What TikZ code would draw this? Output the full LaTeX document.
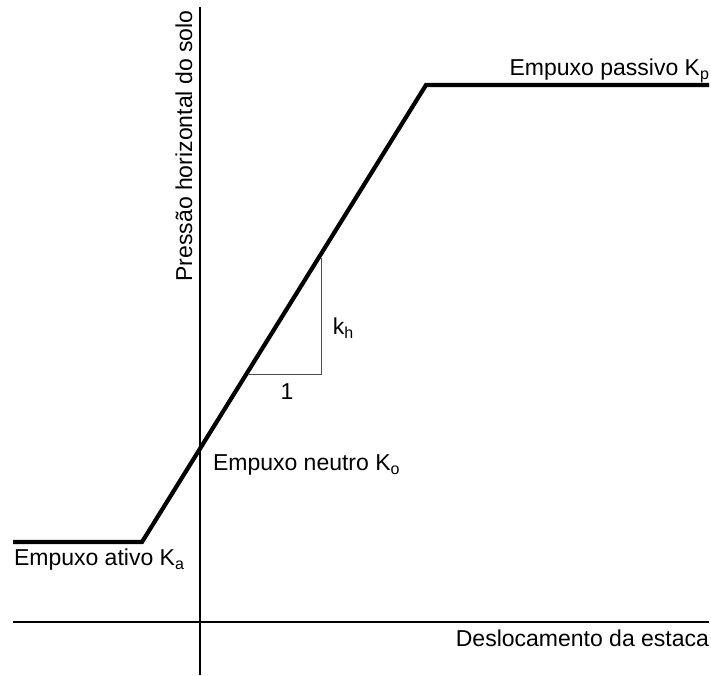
\documentclass[tikz,border=0pt]{standalone}
\usepackage{fontspec}
\setmainfont{Liberation Sans}
\newcommand{\lowidx}[1]{\raisebox{-0.35ex}{\fontsize{16}{16}\selectfont #1}}

\begin{document}
\begin{tikzpicture}[
  x=1pt, y=-1pt,
  font={\fontsize{23}{27}\selectfont},
  every node/.style={inner sep=0pt, outer sep=0pt},
  axisline/.style={line width=1.4pt, draw=black},
  curveline/.style={line width=4.2pt, draw=black, line join=miter},
  slopeline/.style={line width=1pt, draw=black!70},
]

% ── frame ──
\useasboundingbox (0,0) rectangle (711,675);

% ── axes ──
\coordinate (yTop) at (200,7);
\coordinate (yBot) at (200,675);
\coordinate (xLeft) at (13,622);
\coordinate (xRight) at (709,622);
\draw[axisline] (yTop) -- (yBot);
\draw[axisline] (xLeft) -- (xRight);
\node[rotate=90, anchor=center] (yLabel) at (184,146) {Pressão horizontal do solo};
\node[anchor=base east] (xLabel) at (709,646) {Deslocamento da estaca};

% ── pressure curve ──
\coordinate (actStart) at (13,542);
\coordinate (actEnd) at (142,542);
\coordinate (pasStart) at (426,85);
\coordinate (pasEnd) at (709,85);
\draw[curveline] (actStart) -- (actEnd) -- (pasStart) -- (pasEnd);

% ── slope triangle ──
\coordinate (triTop) at (321,258);
\coordinate (triCorner) at (321,374);
\coordinate (triLeft) at (249,374);
\draw[slopeline] (triTop) -- (triCorner) -- (triLeft);
\node[anchor=center] (khLabel) at (343,328) {k\lowidx{h}};
\node[anchor=center] (oneLabel) at (287,392) {1};

% ── labels ──
\node[anchor=base east] (pasLabel) at (709,75) {Empuxo passivo K\lowidx{p}};
\node[anchor=base west] (neuLabel) at (213,470) {Empuxo neutro K\lowidx{o}};
\node[anchor=base west] (actLabel) at (14,565) {Empuxo ativo K\lowidx{a}};

\end{tikzpicture}
\end{document}
